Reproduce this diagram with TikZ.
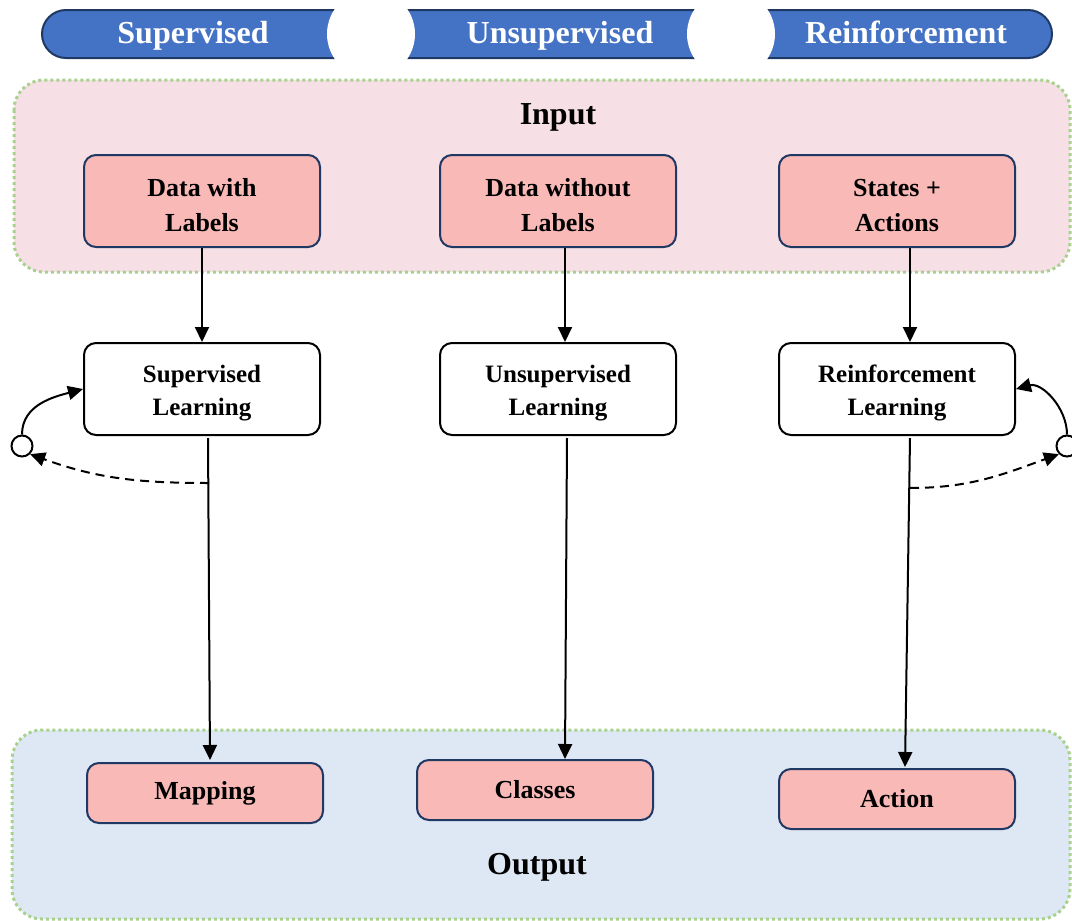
\documentclass[tikz,border=0pt]{standalone}
\usepackage{fontspec}
\setmainfont{Liberation Serif}
\usetikzlibrary{arrows.meta}

\definecolor{bannerblue}{HTML}{4472C4}
\definecolor{bannerline}{HTML}{203864}
\definecolor{inpink}{HTML}{F6E0E5}
\definecolor{outblue}{HTML}{DEE8F5}
\definecolor{boxpink}{HTML}{F8B9B7}
\definecolor{boxline}{HTML}{1F3864}
\definecolor{dotgreen}{HTML}{A9D18E}

\tikzset{
  pinkbox/.style={draw=boxline, line width=2pt, fill=boxpink, rounded corners=12pt,
    minimum width=236pt, align=center, font=\fontsize{26}{35}\selectfont\bfseries},
  learnbox/.style={draw=black, line width=2pt, fill=white, rounded corners=12pt,
    minimum width=236pt, minimum height=92pt, align=center,
    font=\fontsize{25}{33}\selectfont\bfseries},
  region/.style={draw=dotgreen, line width=3pt, dash pattern=on 3pt off 3pt,
    rounded corners=30pt},
  title/.style={font=\fontsize{32}{38}\selectfont\bfseries, anchor=base},
  flow/.style={line width=2pt, -{Triangle[length=15pt,width=14pt]}},
  loopdot/.style={circle, draw=black, line width=2pt, fill=white, minimum size=21pt, inner sep=0pt},
}

\begin{document}
\begin{tikzpicture}[x=1pt,y=1pt]
\useasboundingbox (0,0) rectangle (1072,-921);

% banners
\draw[fill=bannerblue, draw=bannerline, line width=2pt, rounded corners=24pt] (42,-10) rectangle (1052,-58);
\fill[white] (371,-34) circle (44);
\fill[white] (731,-34) circle (44);
\node[title, text=white] (bsup)   at (193,-43) {Supervised};
\node[title, text=white] (bunsup) at (560,-43) {Unsupervised};
\node[title, text=white] (breinf) at (906,-43) {Reinforcement};

% input / output
\draw[region, fill=inpink]  (14,-80)  rectangle (1070,-272);
\draw[region, fill=outblue] (12,-730) rectangle (1070,-919);
\node[title] (inp)  at (558,-124) {Input};
\node[title] (outp) at (537,-874) {Output};

\node[pinkbox, minimum height=92pt] (dwl)  at (202,-201) {\rule{0pt}{25.5pt}Data with\\Labels};
\node[pinkbox, minimum height=92pt] (dwol) at (558,-201) {\rule{0pt}{25.5pt}Data without\\Labels};
\node[pinkbox, minimum height=92pt] (sa)   at (897,-201) {\rule{0pt}{25.5pt}States +\\Actions};

\node[learnbox] (sl) at (202,-389) {\rule{0pt}{25pt}Supervised\\Learning};
\node[learnbox] (ul) at (558,-389) {\rule{0pt}{25pt}Unsupervised\\Learning};
\node[learnbox] (rl) at (897,-389) {\rule{0pt}{25pt}Reinforcement\\Learning};

\node[pinkbox, minimum height=60pt] (map) at (205,-793) {Mapping};
\node[pinkbox, minimum height=60pt] (cls) at (535,-790) {Classes};
\node[pinkbox, minimum height=60pt] (act) at (897,-799) {Action};

\draw[flow] (dwl.south) -- (sl.north);
\draw[flow] ([xshift=7pt]dwol.south) -- ([xshift=7pt]ul.north);
\draw[flow] ([xshift=13pt]sa.south) -- ([xshift=13pt]rl.north);

\draw[flow, shorten >=2pt] ([xshift=6pt,yshift=-2pt]sl.south) -- ([xshift=5pt]map.north);
\draw[flow] ([xshift=9pt,yshift=-2pt]ul.south) -- ([xshift=30pt]cls.north);
\draw[flow, shorten >=1pt] ([xshift=13pt,yshift=-2pt]rl.south) -- ([xshift=8pt]act.north);

% feedback loops
\node[loopdot] (lc) at (22,-446) {};
\node[loopdot] (rc) at (1067,-446) {};
\coordinate (ls) at (209,-483);
\coordinate (rs) at (910,-488);

\draw[flow] (lc.north) to[out=90,in=195] (sl.west);
\draw[flow, dash pattern=on 9pt off 6pt] (ls) to[out=180,in=-20] (lc.south east);
\draw[flow] (rc.north) to[out=90,in=15] (rl.east);
\draw[flow, dash pattern=on 9pt off 6pt] (rs) to[out=0,in=-160] (rc.south west);
\end{tikzpicture}
\end{document}
